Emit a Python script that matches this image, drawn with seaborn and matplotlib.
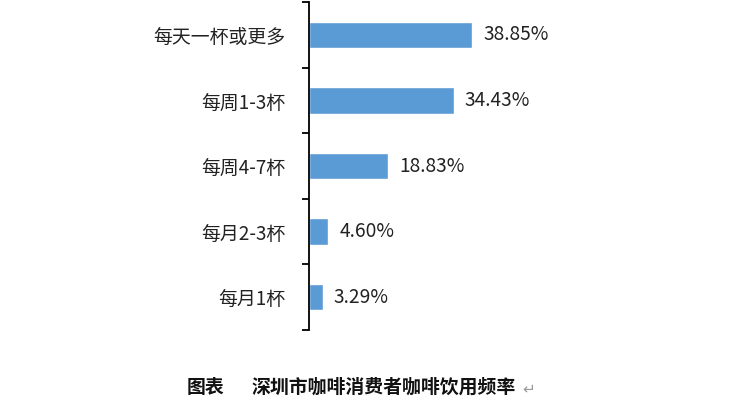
import matplotlib
matplotlib.use("Agg")
import matplotlib.pyplot as plt
import seaborn as sns
import pandas as pd

# data
categories = ['每天一杯或更多', '每周1-3杯', '每周4-7杯', '每月2-3杯', '每月1杯']
shares = [38.85, 34.43, 18.83, 4.60, 3.29]
caption = '深圳市咖啡消费者咖啡饮用频率'

sns.set_style('white')
plt.rcParams['font.family'] = ['Noto Sans CJK SC', 'DejaVu Sans']

df = pd.DataFrame({'freq': categories, 'share': shares})

fig = plt.figure(figsize=(7.5, 4.11), dpi=100)
ax = fig.add_axes([309 / 750, 1 - 330 / 411, 420 / 750, 328 / 411])

sns.barplot(data=df, x='share', y='freq', color='#5B9BD5', width=0.4,
            saturation=1, ax=ax)

ax.set_xlim(0, 100)
ax.set_ylim(4.5, -0.5)
ax.set_xlabel('')
ax.set_ylabel('')
ax.set_xticks([])

for s in ['top', 'right', 'bottom']:
    ax.spines[s].set_visible(False)
ax.spines['left'].set_color('#000000')
ax.spines['left'].set_linewidth(1.3)

# category labels without tick marks, ticks at the boundaries
ax.tick_params(axis='y', which='major', left=True, length=0, pad=17,
               labelsize=13.6, labelcolor='#222222')
ax.set_yticks([i - 0.5 for i in range(len(categories) + 1)], minor=True)
ax.tick_params(axis='y', which='minor', left=True, length=5, width=1.3,
               color='#000000')

for i, v in enumerate(shares):
    ax.text(v + 2.6, i, f'{v:.2f}%', va='center', ha='left',
            fontsize=13.8, color='#222222')

fig.text(187 / 750, 1 - 387 / 411, '图表', fontsize=13.6, fontweight='bold',
         ha='left', va='center', color='#111111')
fig.text(252 / 750, 1 - 387 / 411, caption, fontsize=13.6, fontweight='bold',
         ha='left', va='center', color='#111111')
fig.text(522 / 750, 1 - 389 / 411, '↵', fontsize=11, ha='left', va='center',
         color='#999999', family=['DejaVu Sans'])

fig.savefig('out.png', dpi=100)
